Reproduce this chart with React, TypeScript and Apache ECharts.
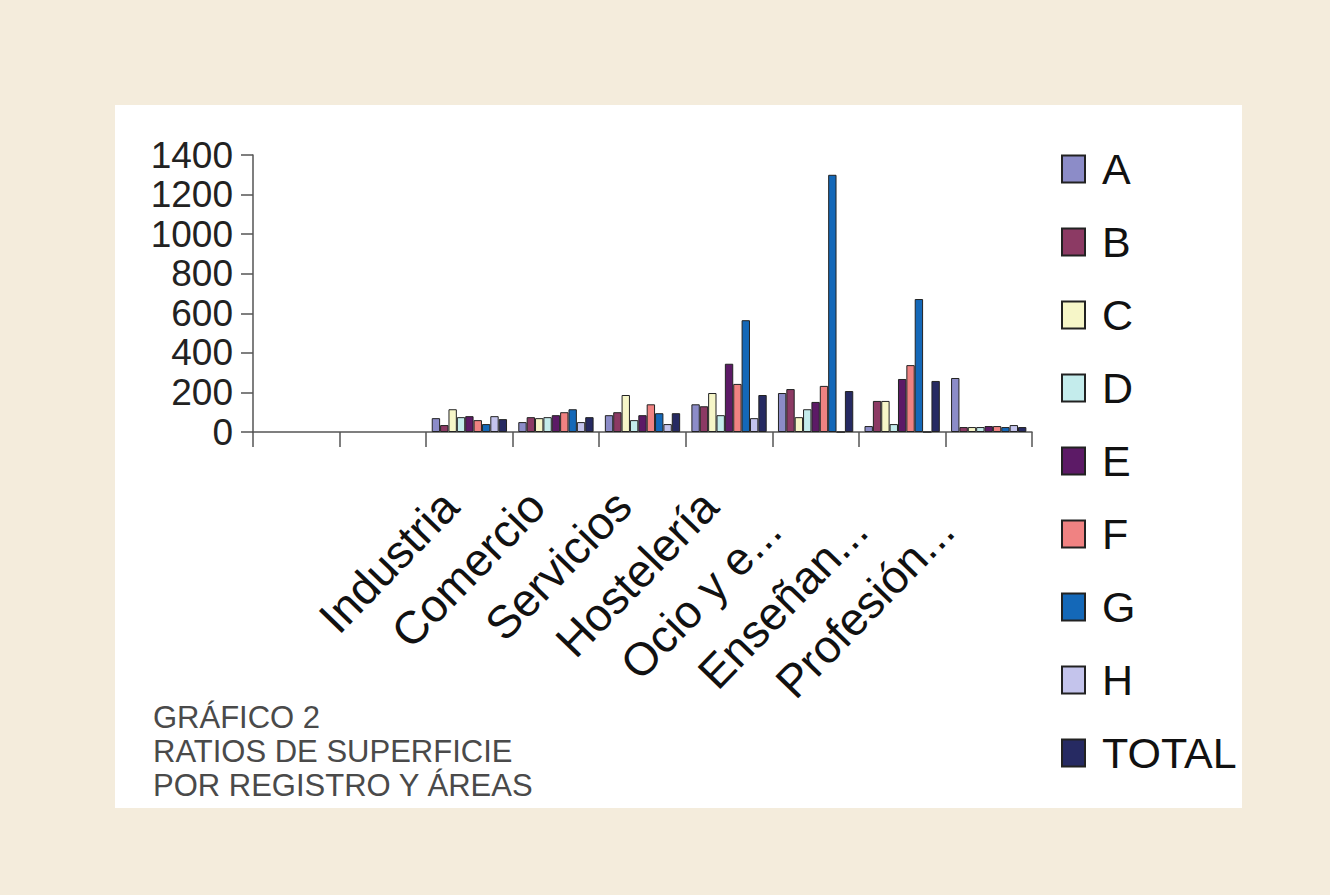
import React, { useEffect, useRef } from "react";
import * as echarts from "echarts";

const categories = ["", "", "Industria", "Comercio", "Servicios", "Hostelería", "Ocio y e...", "Enseñan...", "Profesión..."];
const seriesNames = ["A", "B", "C", "D", "E", "F", "G", "H", "TOTAL"];
const valuesA = [null, null, 70, 50, 85, 140, 197, 30, 273];
const valuesB = [null, null, 35, 75, 100, 130, 217, 157, 25];
const valuesC = [null, null, 115, 70, 187, 197, 75, 157, 25];
const valuesD = [null, null, 75, 75, 60, 85, 115, 40, 25];
const valuesE = [null, null, 80, 85, 85, 345, 152, 268, 30];
const valuesF = [null, null, 60, 100, 140, 243, 233, 338, 30];
const valuesG = [null, null, 40, 115, 95, 565, 1300, 672, 25];
const valuesH = [null, null, 80, 50, 40, 70, 0, 0, 35];
const valuesTotal = [null, null, 65, 75, 95, 187, 207, 258, 25];
const yTicks = [0, 200, 400, 600, 800, 1000, 1200, 1400];
const titleLines = ["GRÁFICO 2", "RATIOS DE SUPERFICIE", "POR REGISTRO Y ÁREAS"];

const allValues = [valuesA, valuesB, valuesC, valuesD, valuesE, valuesF, valuesG, valuesH, valuesTotal];
const colors = ["#8c8cc8", "#8c3a64", "#f6f6c8", "#c4ecec", "#5c1a66", "#f08282", "#1468b8", "#c4c4ec", "#262a62"];

export default function App() {
  const ref = useRef<HTMLDivElement>(null);
  useEffect(() => {
    if (!ref.current) return;
    const chart = echarts.init(ref.current, null, { renderer: "svg" });
    const font = "'Liberation Sans', Arial, sans-serif";
    const catData = categories.map((c) =>
      c.endsWith("...") ? { value: c, textStyle: { padding: [0, 62, 0, 0] } } : c
    );
    chart.setOption({
      animation: false,
      backgroundColor: "#f4ecdc",
      textStyle: { fontFamily: font },
      graphic: [
        {
          type: "rect",
          z: -10,
          shape: { x: 115, y: 105, width: 1127, height: 703 },
          style: { fill: "#ffffff" },
          silent: true,
        },
        ...titleLines.map((t, i) => ({
          type: "text",
          left: 153,
          top: 702 + i * 34,
          style: { text: t, fill: "#4a4a4a", font: `31px ${font}` },
        })),
      ],
      grid: { left: 253, right: 298, top: 155, bottom: 463 },
      legend: {
        orient: "vertical",
        left: 1056,
        top: 142,
        itemWidth: 23,
        itemHeight: 27,
        itemGap: 29,
        data: seriesNames,
        icon: "rect",
        textStyle: { fontSize: 43, color: "#111", fontFamily: font, padding: [0, 0, 0, 12], lineHeight: 44 },
      },
      xAxis: {
        type: "category",
        data: catData,
        axisLine: { lineStyle: { color: "#555", width: 1.5 } },
        axisTick: { show: true, length: 15, lineStyle: { color: "#555", width: 1.5 } },
        axisLabel: {
          interval: 0,
          rotate: 46,
          fontSize: 46,
          color: "#111",
          margin: 46,
          padding: [0, 28, 0, 0],
          fontFamily: font,
        },
      },
      yAxis: {
        type: "value",
        min: 0,
        max: 1400,
        interval: 200,
        axisLine: { show: true, lineStyle: { color: "#555", width: 1.5 } },
        axisTick: { show: true, length: 12, lineStyle: { color: "#555", width: 1.5 } },
        splitLine: { show: false },
        axisLabel: {
          fontSize: 37,
          color: "#222",
          margin: 20,
          fontFamily: font,
          formatter: (v: number) => String(v),
        },
      },
      series: seriesNames.map((n, i) => ({
        name: n,
        type: "bar",
        data: allValues[i],
        barGap: "0%",
        barCategoryGap: "13%",
        itemStyle: { color: colors[i], borderColor: "#222", borderWidth: 1 },
      })),
    });
    return () => chart.dispose();
  }, []);
  return <div ref={ref} style={{ position: "fixed", left: 0, top: 0, width: 1330, height: 895 }} />;
}
